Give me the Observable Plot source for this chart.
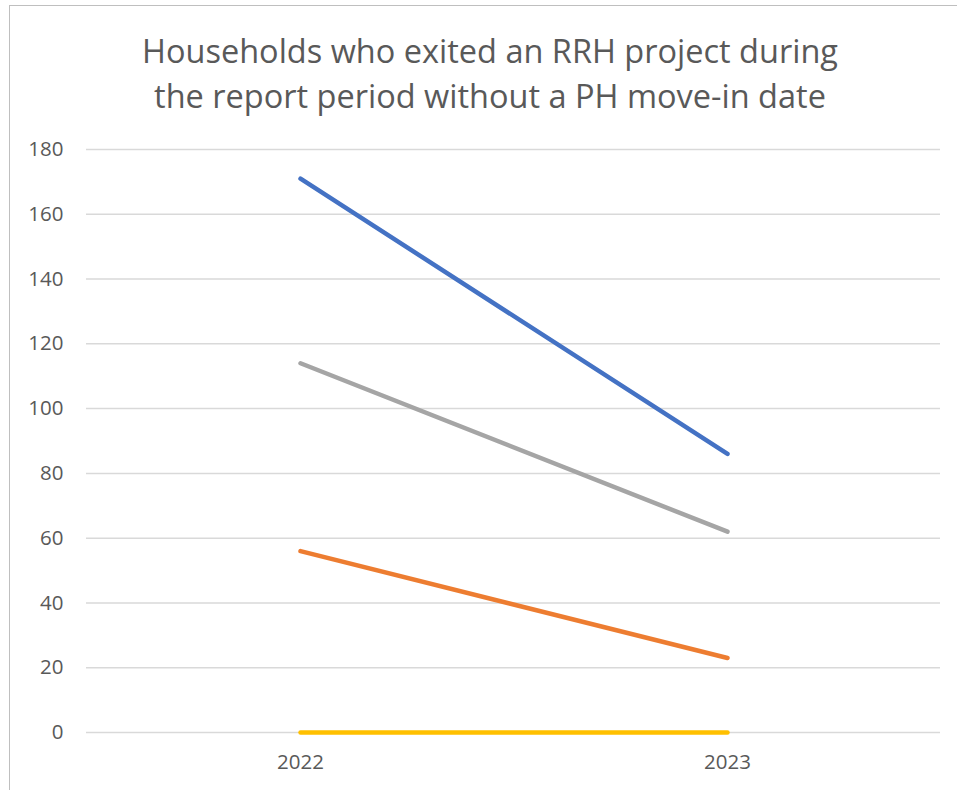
<!DOCTYPE html>
<html>
<head>
<meta charset="utf-8">
<script src="https://cdn.jsdelivr.net/npm/d3@7"></script>
<script src="https://cdn.jsdelivr.net/npm/@observablehq/plot@0.6"></script>
<style>
  html, body { margin: 0; padding: 0; background: #fff; overflow: hidden; }
  #frame { position: absolute; left: 9px; top: 5px; width: 1100px; height: 1000px; border: 1.5px solid #bfbfbf; box-sizing: border-box; }
  #title { position: absolute; left: 0; top: 28px; width: 980px; text-align: center; font-family: "Open Sans", "Noto Sans", sans-serif; font-size: 32.5px; line-height: 45px; color: #595959; }
  #chart { position: absolute; left: 0; top: 130px; }
</style>
</head>
<body>
<div id="frame"></div>
<div id="title">Households who exited an RRH project during<br>the report period without a PH move-in date</div>
<div id="chart"></div>
<script>
const years = ["2022", "2023"];
const seriesNames = ["Total", "Without children", "With children and adults", "Only children"];
const seriesColors = ["#4472C4", "#A5A5A5", "#ED7D31", "#FFC000"];
const totalValues = [171, 86];
const withoutChildrenValues = [114, 62];
const withChildrenValues = [56, 23];
const onlyChildrenValues = [0, 0];
const yTicks = [0, 20, 40, 60, 80, 100, 120, 140, 160, 180];

const allValues = [totalValues, withoutChildrenValues, withChildrenValues, onlyChildrenValues];
const rows = [];
allValues.forEach((vals, i) => {
  years.forEach((y, j) => rows.push({series: seriesNames[i], year: y, value: vals[j]}));
});

const chart = Plot.plot({
  width: 957,
  height: 660,
  marginLeft: 86,
  marginRight: 17,
  marginTop: 19,
  marginBottom: 58,
  style: {fontFamily: "'Open Sans', 'Noto Sans', sans-serif", fontSize: "20.5px", color: "#595959", background: "transparent"},
  x: {type: "point", domain: years, padding: 0.5, label: null, tickSize: 0, tickPadding: 22},
  y: {domain: [0, 180], ticks: yTicks, label: null, tickSize: 0, tickPadding: 23},
  color: {domain: seriesNames, range: seriesColors},
  marks: [
    Plot.ruleY(yTicks, {stroke: "#d9d9d9", strokeWidth: 1.5}),
    Plot.line(rows, {x: "year", y: "value", z: "series", stroke: "series", strokeWidth: 4.5, strokeLinecap: "round"})
  ]
});
chart.querySelectorAll("g[aria-label='x-axis tick label'], g[aria-label='y-axis tick label']").forEach(g => {
  g.setAttribute("font-size", "20.5");
  g.style.fontSize = "20.5px";
  g.setAttribute("fill", "#595959");
});
document.getElementById("chart").appendChild(chart);
</script>
</body>
</html>
